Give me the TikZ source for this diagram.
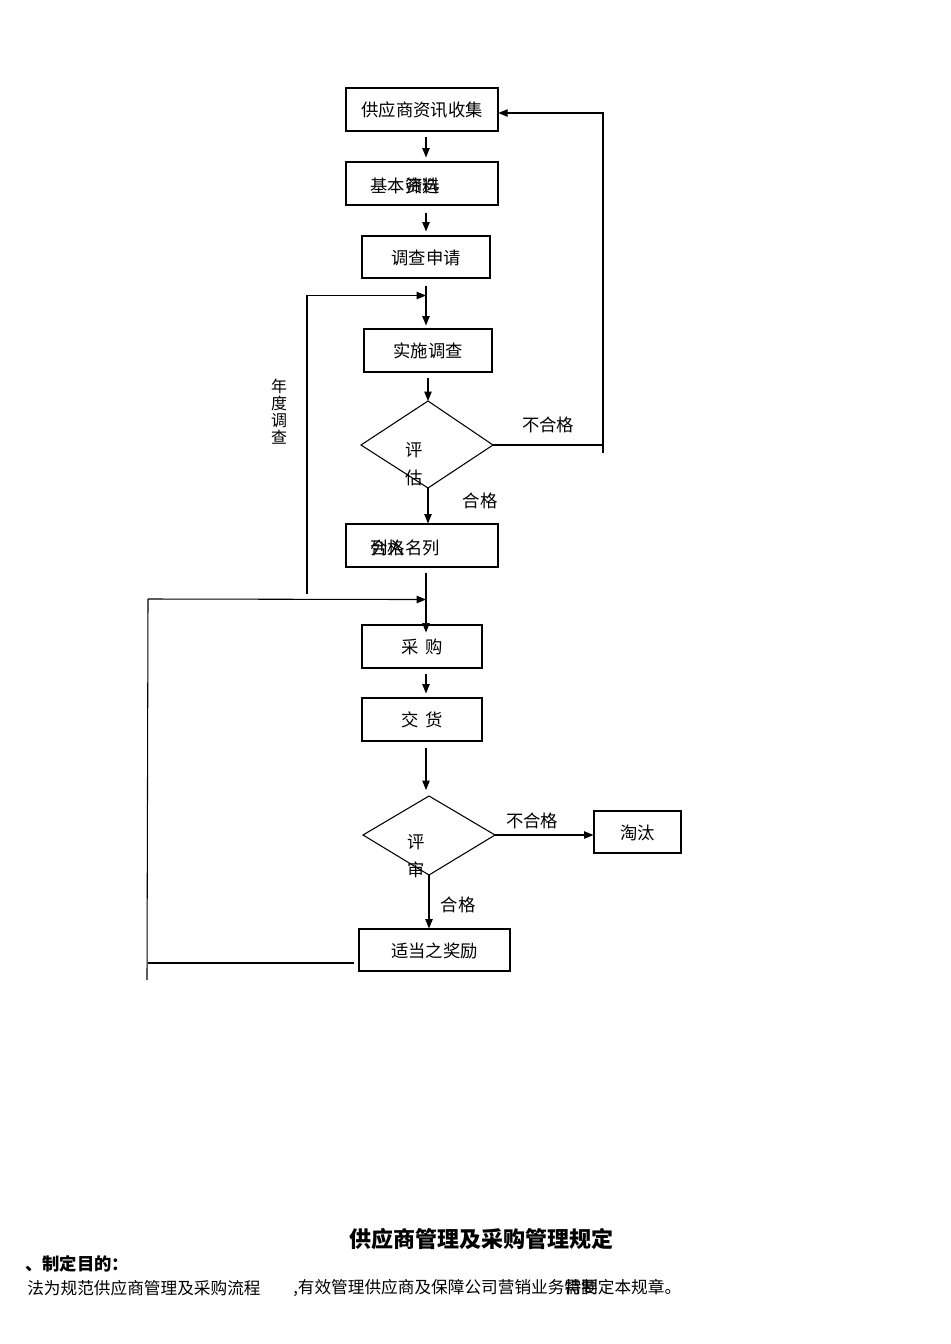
\documentclass[tikz,border=0pt]{standalone}
\usepackage{fontspec}
\setmainfont{Noto Sans CJK SC}
\usetikzlibrary{arrows.meta,calc}
\tikzset{
  box/.style={draw, line width=0.8pt, inner sep=0pt, font=\fontsize{13}{15}\selectfont, text depth=0pt},
  arr/.style={line width=0.8pt, -{Triangle[length=7pt,width=5.5pt]}},
  ln/.style={line width=0.8pt},
  txt/.style={font=\fontsize{13}{15}\selectfont, inner sep=0pt},
}
\begin{document}
\begin{tikzpicture}[x=0.75pt,y=-0.75pt]
\useasboundingbox (0,0) rectangle (950,1344);

% boxes
\coordinate (b1nw) at (346,88);
\coordinate (b1se) at (498,131);
\draw[ln] (b1nw) rectangle (b1se);
\node[txt, minimum width=114pt, minimum height=32.25pt] (b1) at (422,109.5) {供应商资讯收集};
\node[box, minimum width=114pt, minimum height=32.25pt] (b2) at (422,183.5) {};
\node[txt] (t2a) at (405,186) {基本资料};
\node[txt] (t2b) at (405,186) {\phantom{基本}筛选};
\node[box, minimum width=96pt, minimum height=31.5pt] (b3) at (426,257) {调查申请};
\node[box, minimum width=96pt, minimum height=32.25pt] (b4) at (428,350.5) {实施调查};
\node[box, minimum width=114pt, minimum height=32.25pt] (b5) at (422,545.5) {};
\node[txt] (t5a) at (405,548) {合格名列};
\node[txt] (t5b) at (405,548) {列入\phantom{名列}};
\node[box, minimum width=90pt, minimum height=32.25pt] (b6) at (422,646.5) {采\hspace{0.4em}购};
\node[box, minimum width=90pt, minimum height=32.25pt] (b7) at (422,719.5) {交\hspace{0.4em}货};
\node[box, minimum width=65.25pt, minimum height=31.5pt] (b8) at (637.5,832) {淘汰};
\node[box, minimum width=113.25pt, minimum height=31.5pt] (b9) at (434.5,950) {适当之奖励};

% diamond 1
\coordinate (d1t) at (428,401);
\coordinate (d1r) at (493,445);
\coordinate (d1b) at (428,488);
\coordinate (d1l) at (361,445);
\draw[ln] (d1t) -- (d1r) -- (d1b) -- (d1l) -- cycle;
\node[txt] (e1) at (414,450) {评};
\node[txt] (e2) at (414,478) {估};

% diamond 2
\coordinate (d2t) at (429,796);
\coordinate (d2r) at (495,835);
\coordinate (d2b) at (429,875);
\coordinate (d2l) at (363,835);
\draw[ln] (d2t) -- (d2r) -- (d2b) -- (d2l) -- cycle;
\node[txt] (s1) at (416,842) {评};
\node[txt] (s2) at (416,870) {审};

% main arrows
\draw[arr] ($(b1.south)+(4,6)$) -- ($(b2.north)+(4,-4)$);
\draw[arr] ($(b2.south)+(4,7)$) -- ($(b3.north)+(0,-4)$);
\draw[arr] ($(b3.south)+(0,7)$) -- ($(b4.north)+(-2,-3)$);
\draw[arr] ($(b4.south)+(0,5)$) -- (d1t);
\draw[arr] (d1b) -- ($(b5.north)+(6,0)$);
\draw[arr] ($(b5.south)+(4,5)$) -- ($(b6.north)+(4,8)$);
\draw[arr] ($(b6.south)+(4,5)$) -- ($(b7.north)+(4,-4)$);
\draw[arr] ($(b7.south)+(4,6)$) -- ($(d2t)+(-3,-6)$);
\draw[arr] (d2r) -- (d2r -| b8.west);
\draw[arr] (d2b) -- (d2b |- b9.north);

% reject loop from diamond 1
\coordinate (r1) at (603,453);
\draw[ln] (d1r) -- (d1r -| r1);
\draw[arr] (r1) |- ($(b1.east)+(0,3.5)$);

% yearly survey loop
\coordinate (yb) at (307,594);
\draw[arr] (yb) |- ($(b3.south)+(0,17)$);
\node[font=\fontsize{12}{12.8}\selectfont, align=center, inner sep=0pt] (yl) at (279,412) {年\\度\\调\\查};

% reward loop
\coordinate (lt) at (148,599);
\coordinate (lb) at (147,980);
\draw[ln] (lt) -- (lb);
\draw[arr] (lt) -- ($(b5.south)+(4,32)$);
\draw[ln] ($(b9.west)+(-4,13)$) -- (148,963);

% labels
\node[txt] (n1) at (548,425) {不合格};
\node[txt] (p1) at (480,501) {合格};
\node[txt] (n2) at (532,821) {不合格};
\node[txt] (p2) at (458,905) {合格};

% text below
\node[font=\fontsize{16.5}{18}\selectfont\bfseries, inner sep=0pt] (title) at (481,1239) {供应商管理及采购管理规定};
\node[font=\fontsize{13}{15}\selectfont\bfseries, inner sep=0pt, anchor=west] (h1) at (25,1264) {、制定目的：};
\node[font=\fontsize{12.5}{14}\selectfont, inner sep=0pt, anchor=west] (p1a) at (27,1288) {法为规范供应商管理及采购流程};
\node[font=\fontsize{12.5}{14}\selectfont, inner sep=0pt, anchor=west] (p1b) at (293,1288) {,有效管理供应商及保障公司营销业务需要定本规章。};
\node[font=\fontsize{12.5}{14}\selectfont, inner sep=0pt, anchor=west] (p1c) at (293,1288) {\phantom{,有效管理供应商及保障公司营销业务}特制};
\end{tikzpicture}
\end{document}
